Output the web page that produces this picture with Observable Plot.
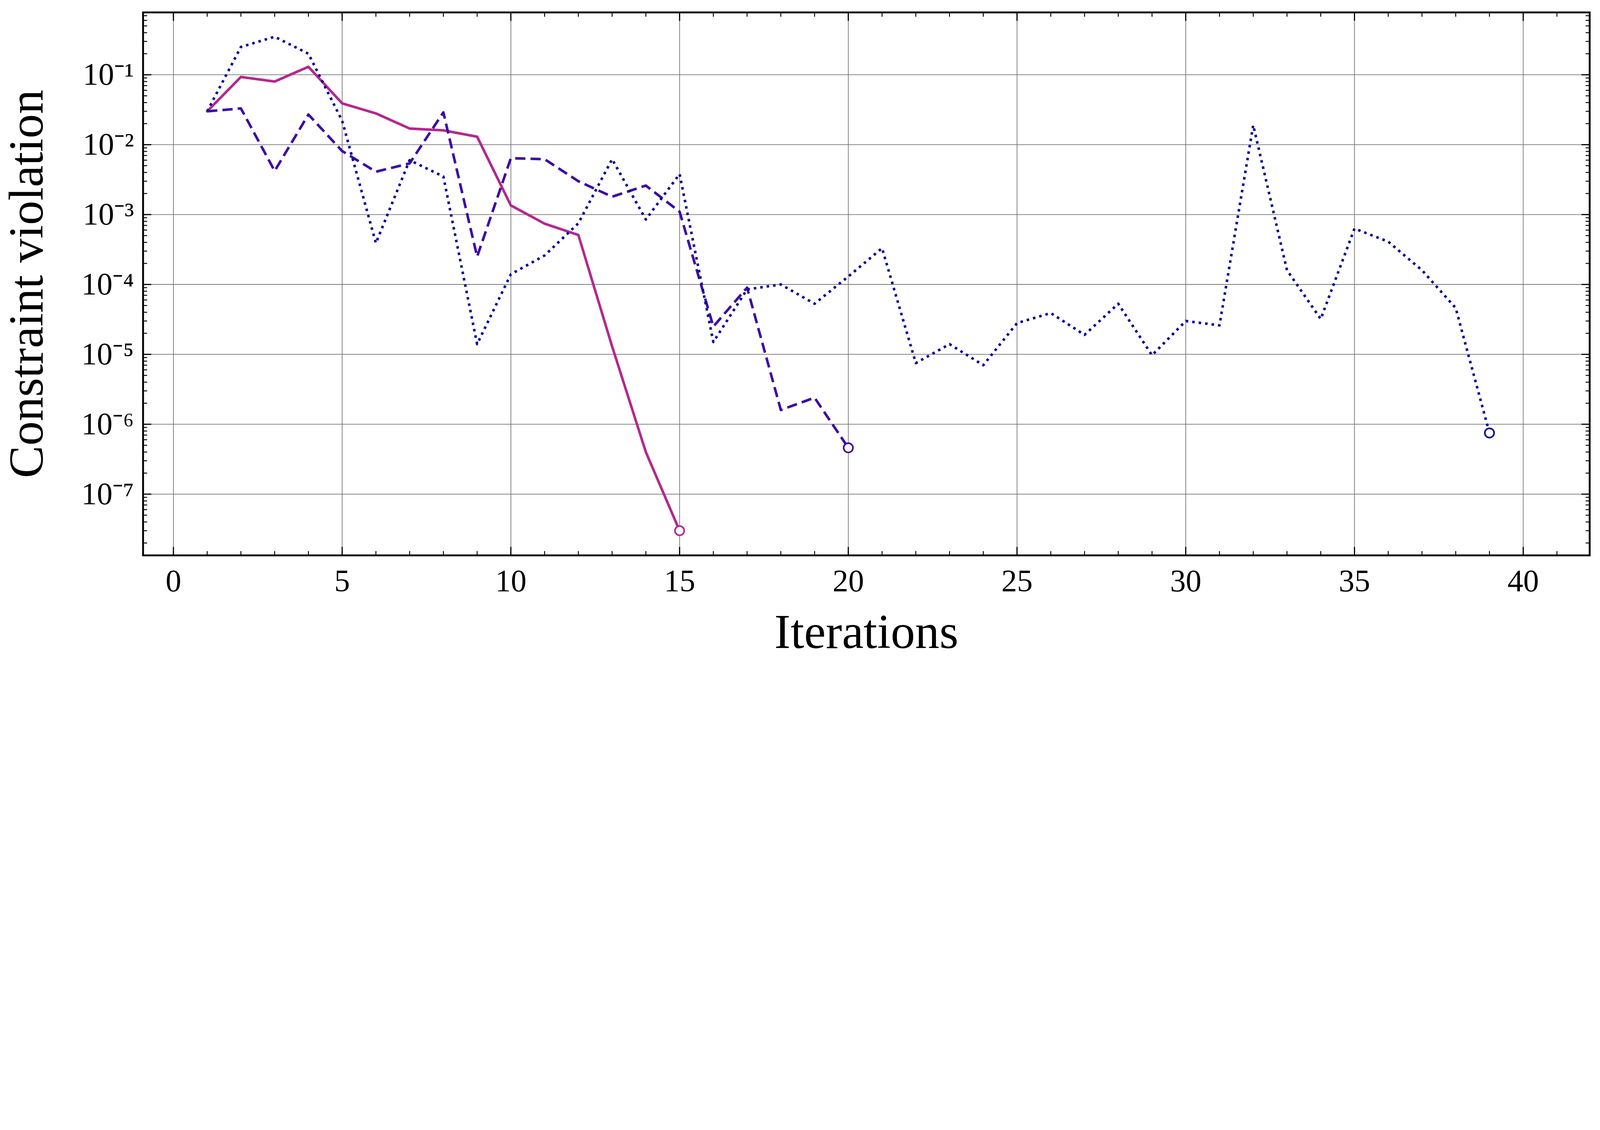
<!DOCTYPE html>
<html><head><meta charset="utf-8">
<script src="https://cdn.jsdelivr.net/npm/d3@7"></script>
<script src="https://cdn.jsdelivr.net/npm/@observablehq/plot@0.6"></script>
<style>body{margin:0;background:#fff}</style>
</head><body><div id="chart"></div>
<script>
const solid = [0.03,0.093,0.08,0.13,0.039,0.028,0.017,0.016,0.013,0.00135,0.00074,0.00051,1.3e-5,4e-7,3e-8];
const dashed = [0.03,0.033,0.0042,0.027,0.0081,0.0041,0.0054,0.029,0.00025,0.0064,0.0062,0.003,0.0018,0.0026,0.0011,2.5e-5,9e-5,1.6e-6,2.4e-6,4.6e-7];
const dotted = [0.03,0.25,0.35,0.2,0.022,0.00039,0.006,0.0035,1.4e-5,1.4e-4,2.6e-4,7.5e-4,0.0062,8.5e-4,0.0038,1.5e-5,8.5e-5,1.0e-4,5.3e-5,1.3e-4,3.3e-4,7.5e-6,1.4e-5,7e-6,2.8e-5,3.9e-5,1.9e-5,5.3e-5,9.7e-6,3e-5,2.6e-5,0.019,1.6e-4,3.2e-5,6.3e-4,4.1e-4,1.6e-4,4.6e-5,7.5e-7];
const xTicks = [0,5,10,15,20,25,30,35,40];
const yExps = [-7,-6,-5,-4,-3,-2,-1];

const series = [
  {name:"solid", vals:solid, color:"#b3288f", dash:null},
  {name:"dashed", vals:dashed, color:"#3d0ca6", dash:"44,22"},
  {name:"dotted", vals:dotted, color:"#0b0b96", dash:"11,17"}
];
const rows = series.flatMap(s => s.vals.map((v,i)=>({s:s.name, x:i+1, y:v})));
const ends = series.map(s => ({s:s.name, x:s.vals.length, y:s.vals[s.vals.length-1], c:s.color}));
const yTicks = yExps.map(e => Math.pow(10,e));
const yMinor = [];
for (let e=-8;e<=-1;e++) for (let k=2;k<=9;k++) yMinor.push(k*Math.pow(10,e));
const xMinor = d3.range(0,42);
const sup = {"-":"⁻","0":"⁰","1":"¹","2":"²","3":"³","4":"⁴","5":"⁵","6":"⁶","7":"⁷","8":"⁸","9":"⁹"};
const fmt = d => "10" + String(Math.round(Math.log10(d))).split("").map(c=>sup[c]).join("");

const font = "'Liberation Serif','Times New Roman',serif";
const chart = Plot.plot({
  width: 6895, height: 2893,
  marginLeft: 616, marginRight: 45, marginTop: 53, marginBottom: 500,
  style: {fontFamily: font, fontSize: "135px", color: "#000", background: "#fff"},
  x: {domain: [-0.9, 41.97], label: null},
  y: {type: "log", domain: [1.33e-8, 0.78], label: null},
  marks: [
    Plot.gridX(xTicks, {stroke: "#777", strokeOpacity: 1, strokeWidth: 3}),
    Plot.gridY(yTicks, {stroke: "#777", strokeOpacity: 1, strokeWidth: 3}),
    ...series.map(s => Plot.line(rows.filter(r=>r.s===s.name), {
      x:"x", y:"y", stroke:s.color, strokeWidth:11, strokeDasharray:s.dash, strokeLinecap: s.dash? "butt":"round"
    })),
    Plot.dot(ends, {x:"x", y:"y", r:20, stroke:"c", fill:"#fff", strokeWidth:7}),
    Plot.axisX(xTicks, {anchor:"bottom", tickSize:-36, tickPadding:95, strokeWidth:5, fontSize:135, tickFormat:d3.format("d")}),
    Plot.axisX(xTicks, {anchor:"top", tickSize:-36, text:null, strokeWidth:5}),
    Plot.axisX(xMinor, {anchor:"bottom", tickSize:-18, text:null, strokeWidth:4}),
    Plot.axisX(xMinor, {anchor:"top", tickSize:-18, text:null, strokeWidth:4}),
    Plot.axisY(yTicks, {anchor:"left", tickSize:-36, tickPadding:75, strokeWidth:5, tickFormat:fmt, fontSize:135}),
    Plot.axisY(yTicks, {anchor:"right", tickSize:-36, text:null, strokeWidth:5}),
    Plot.axisY(yMinor.filter(v=>v>1.33e-8&&v<0.78), {anchor:"left", tickSize:-18, text:null, strokeWidth:4}),
    Plot.axisY(yMinor.filter(v=>v>1.33e-8&&v<0.78), {anchor:"right", tickSize:-18, text:null, strokeWidth:4}),
    Plot.frame({stroke:"#000", strokeWidth:8}),
    Plot.text(["Iterations"], {frameAnchor:"bottom", textAnchor:"middle", dy:400, fontSize:210, fill:"#000"}),
    Plot.text(["Constraint violation"], {frameAnchor:"left", textAnchor:"middle", dx:-500, rotate:-90, fontSize:210, fill:"#000"})
  ]
});
document.getElementById("chart").append(chart);
</script>
</body></html>
